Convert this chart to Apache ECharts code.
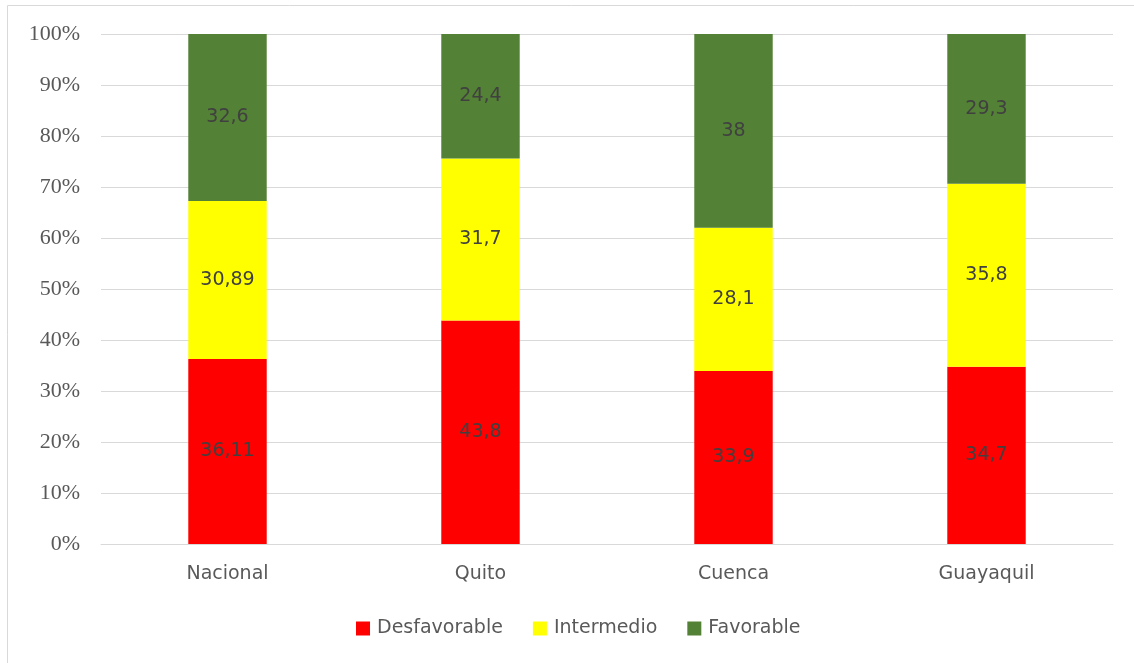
<!DOCTYPE html>
<html>
<head>
<meta charset="utf-8">
<script src="https://cdn.jsdelivr.net/npm/echarts@6/dist/echarts.min.js"></script>
<style>
  html, body { margin: 0; padding: 0; background: #fff; }
  #chart { width: 1134px; height: 663px; }
</style>
</head>
<body>
<div id="chart"></div>
<script>
// categorias y valores (tal como aparecen en las etiquetas)
const categories = ["Nacional", "Quito", "Cuenca", "Guayaquil"];
const desfavorable = [36.11, 43.8, 33.9, 34.7];
const intermedio = [30.89, 31.7, 28.1, 35.8];
const favorable = [32.6, 24.4, 38, 29.3];
const yTicks = ["0%", "10%", "20%", "30%", "40%", "50%", "60%", "70%", "80%", "90%", "100%"];

// 100% apilado: cada barra se normaliza a su total
const totals = categories.map((c, i) => desfavorable[i] + intermedio[i] + favorable[i]);
const toPct = (arr) => arr.map((v, i) => ({ value: (v / totals[i]) * 100, raw: v }));

const labelFmt = (p) => String(p.data.raw).replace(".", ",");
const sansFont = "'DejaVu Sans', Verdana, sans-serif";

const makeSeries = (name, arr, color) => ({
  name: name,
  type: "bar",
  stack: "total",
  barWidth: "31%",
  itemStyle: { color: color },
  label: {
    show: true,
    position: "inside",
    formatter: labelFmt,
    fontFamily: sansFont,
    fontSize: 19,
    color: "#404040",
  },
  data: toPct(arr),
});

const myChart = echarts.init(document.getElementById("chart"));
const options = {
  animation: false,
  graphic: [
    {
      type: "rect",
      shape: { x: 7.5, y: 5.5, width: 1140, height: 670 },
      style: { fill: "none", stroke: "#d9d9d9", lineWidth: 1 },
      silent: true,
    },
  ],
  grid: { left: 101, right: 21, top: 34, bottom: 119 },
  legend: {
    bottom: 20,
    left: 351,
    itemWidth: 14,
    itemHeight: 14,
    itemGap: 30,
    icon: "rect",
    textStyle: {
      fontFamily: sansFont,
      fontSize: 19,
      color: "#595959",
      padding: [0, 0, 0, 2],
    },
    data: ["Desfavorable", "Intermedio", "Favorable"],
  },
  xAxis: {
    type: "category",
    data: categories,
    axisLine: { lineStyle: { color: "#d9d9d9" } },
    axisTick: { show: false },
    axisLabel: {
      margin: 21,
      fontFamily: sansFont,
      fontSize: 19,
      color: "#595959",
    },
  },
  yAxis: {
    type: "value",
    min: 0,
    max: 100,
    interval: 10,
    axisLine: { show: false },
    axisTick: { show: false },
    splitLine: { lineStyle: { color: "#d9d9d9", width: 1 } },
    axisLabel: {
      margin: 21,
      fontFamily: "'Liberation Serif', 'Times New Roman', serif",
      fontSize: 22,
      color: "#595959",
      formatter: (v) => yTicks[Math.round(v / 10)],
    },
  },
  series: [
    makeSeries("Desfavorable", desfavorable, "#ff0000"),
    makeSeries("Intermedio", intermedio, "#ffff00"),
    makeSeries("Favorable", favorable, "#538135"),
  ],
};
options && myChart.setOption(options);
</script>
</body>
</html>
